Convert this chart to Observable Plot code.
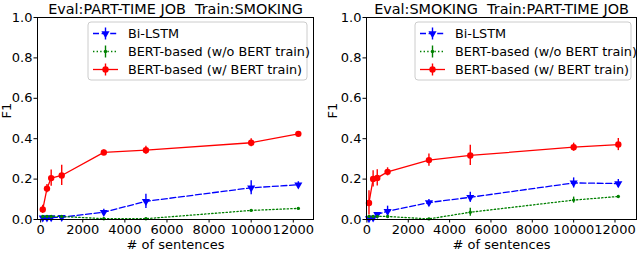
<!DOCTYPE html>
<html><head><meta charset="utf-8">
<script src="https://cdn.jsdelivr.net/npm/d3@7"></script>
<script src="https://cdn.jsdelivr.net/npm/@observablehq/plot@0.6"></script>
<style>
body{margin:0;background:#fff;}
#wrap{position:relative;width:640px;height:262px;overflow:hidden;}
#wrap svg{position:absolute;top:0;}
svg text{white-space:pre;}
</style></head><body><div id="wrap"></div>
<script>
const seriesNames = ["Bi-LSTM", "BERT-based (w/o BERT train)", "BERT-based (w/ BERT train)"];
const titles = ["Eval:PART-TIME JOB  Train:SMOKING", "Eval:SMOKING  Train:PART-TIME JOB"];
const xLabel = "# of sentences";
const yLabel = "F1";
const xTicks = [0, 2000, 4000, 6000, 8000, 10000, 12000];
const yTicks = [0, 0.2, 0.4, 0.6, 0.8, 1.0];

// Left panel: Eval PART-TIME JOB, Train SMOKING
const leftX = [100, 300, 500, 1000, 3000, 5000, 10000, 12240];
const leftLstm = [0.008, 0.008, 0.01, 0.011, 0.036, 0.09, 0.157, 0.172];
const leftLstmErr = [0.008, 0.008, 0.008, 0.008, 0.015, 0.035, 0.035, 0.015];
const leftNoTrain = [0.015, 0.015, 0.015, 0.015, 0.004, 0.004, 0.045, 0.055];
const leftNoTrainErr = [0.005, 0.005, 0.005, 0.005, 0.003, 0.004, 0.004, 0.003];
const leftTrain = [0.05, 0.153, 0.205, 0.218, 0.332, 0.343, 0.38, 0.424];
const leftTrainErr = [0.02, 0.02, 0.04, 0.05, 0.012, 0.02, 0.02, 0.01];

// Right panel: Eval SMOKING, Train PART-TIME JOB
const rightX = [100, 300, 500, 1000, 3000, 5000, 10000, 12160];
const rightLstm = [0.005, 0.008, 0.025, 0.041, 0.084, 0.11, 0.181, 0.178];
const rightLstmErr = [0.005, 0.008, 0.01, 0.025, 0.015, 0.025, 0.025, 0.02];
const rightNoTrain = [0.015, 0.015, 0.015, 0.015, 0.003, 0.036, 0.096, 0.114];
const rightNoTrainErr = [0.005, 0.005, 0.005, 0.005, 0.003, 0.02, 0.015, 0.005];
const rightTrain = [0.082, 0.201, 0.206, 0.236, 0.294, 0.317, 0.358, 0.371];
const rightTrainErr = [0.06, 0.04, 0.04, 0.02, 0.03, 0.05, 0.02, 0.03];

const styles = [
  {color: "#0000ff", dash: "6,2.6", symbol: "triangle", r: 3, rotate: 180},
  {color: "#008000", dash: "1.4,2.2", symbol: "circle", r: 1.7, rotate: 0},
  {color: "#ff0000", dash: null, symbol: "circle", r: 3.2, rotate: 0}
];

function rows(xs, ys, es, s) {
  return xs.map((x, i) => ({x, y: ys[i], lo: ys[i] - es[i], hi: ys[i] + es[i], s}));
}

function panel(cfg) {
  const data = [
    rows(cfg.x, cfg.lstm, cfg.lstmErr, 0),
    rows(cfg.x, cfg.noTrain, cfg.noTrainErr, 1),
    rows(cfg.x, cfg.train, cfg.trainErr, 2)
  ];
  const marks = [];
  data.forEach((d, k) => {
    const st = styles[k];
    marks.push(Plot.line(d, {x: "x", y: "y", stroke: st.color, strokeWidth: 1.3, strokeDasharray: st.dash}));
    marks.push(Plot.ruleX(d, {x: "x", y1: "lo", y2: "hi", stroke: st.color, strokeWidth: 1.4}));
    marks.push(Plot.dot(d, {x: "x", y: "y", fill: st.color, stroke: "none", r: st.r, symbol: st.symbol, rotate: st.rotate}));
  });
  const svg = Plot.plot({
    width: cfg.width, height: 262,
    marginLeft: cfg.ml, marginRight: cfg.mr, marginTop: 17, marginBottom: 43,
    style: {fontFamily: "DejaVu Sans, sans-serif", fontSize: "13px", background: "transparent", color: "black"},
    x: {domain: cfg.domain},
    y: {domain: [0, 1]},
    marks: [
      Plot.axisX({ticks: xTicks, tickSize: 3.5, tickPadding: 2, label: null, tickFormat: d3.format("d")}),
      Plot.axisY({ticks: yTicks, tickSize: 3.5, tickPadding: 1.5, label: null, tickFormat: d3.format(".1f")}),
      ...marks,
      Plot.frame({stroke: "black", strokeWidth: 1}),
      Plot.text([cfg.title], {frameAnchor: "top", text: d => d, lineAnchor: "bottom", dy: -4, fontSize: 14.4}),
      Plot.text([xLabel], {frameAnchor: "bottom", text: d => d, dy: 29, fontSize: 13}),
      Plot.text([yLabel], {frameAnchor: "left", text: d => d, dx: cfg.ylDx, rotate: -90, fontSize: 13})
    ]
  });
  svg.style.left = cfg.left + "px";
  // legend
  const g = d3.select(svg).append("g").attr("font-family", "DejaVu Sans, sans-serif").attr("font-size", 12.8)
    .attr("text-anchor", "start").style("text-anchor", "start");
  const L = cfg.legend;
  g.append("rect").attr("x", L.x).attr("y", 22).attr("width", L.w).attr("height", 58)
    .attr("rx", 3).attr("fill", "white").attr("fill-opacity", 0.8).attr("stroke", "#cccccc").attr("stroke-width", 1);
  seriesNames.forEach((name, k) => {
    const st = styles[k];
    const y = 33.5 + k * 18;
    const x0 = L.x + 5, x1 = L.x + 30, xm = (x0 + x1) / 2;
    g.append("line").attr("x1", x0).attr("x2", x1).attr("y1", y).attr("y2", y)
      .attr("stroke", st.color).attr("stroke-width", 1.3).attr("stroke-dasharray", st.dash);
    g.append("line").attr("x1", xm).attr("x2", xm).attr("y1", y - 6).attr("y2", y + 6)
      .attr("stroke", st.color).attr("stroke-width", 1.4);
    g.append("path").attr("d", d3.symbol(st.symbol === "triangle" ? d3.symbolTriangle : d3.symbolCircle, Math.PI * st.r * st.r)())
      .attr("transform", `translate(${xm},${y}) rotate(${st.rotate})`).attr("fill", st.color);
    g.append("text").attr("x", L.x + 40).attr("y", y).attr("dy", "0.35em").style("text-anchor", "start").text(name);
  });
  document.getElementById("wrap").appendChild(svg);
}

panel({title: titles[0], x: leftX, lstm: leftLstm, lstmErr: leftLstmErr, noTrain: leftNoTrain, noTrainErr: leftNoTrainErr,
  train: leftTrain, trainErr: leftTrainErr, width: 320, left: 0, ml: 37, mr: 7, domain: [-150, 12960], ylDx: -31,
  legend: {x: 88, w: 219}});
panel({title: titles[1], x: rightX, lstm: rightLstm, lstmErr: rightLstmErr, noTrain: rightNoTrain, noTrainErr: rightNoTrainErr,
  train: rightTrain, trainErr: rightTrainErr, width: 320, left: 320, ml: 46, mr: 4, domain: [-20, 13040], ylDx: -34,
  legend: {x: 95, w: 216}});
</script></body></html>
